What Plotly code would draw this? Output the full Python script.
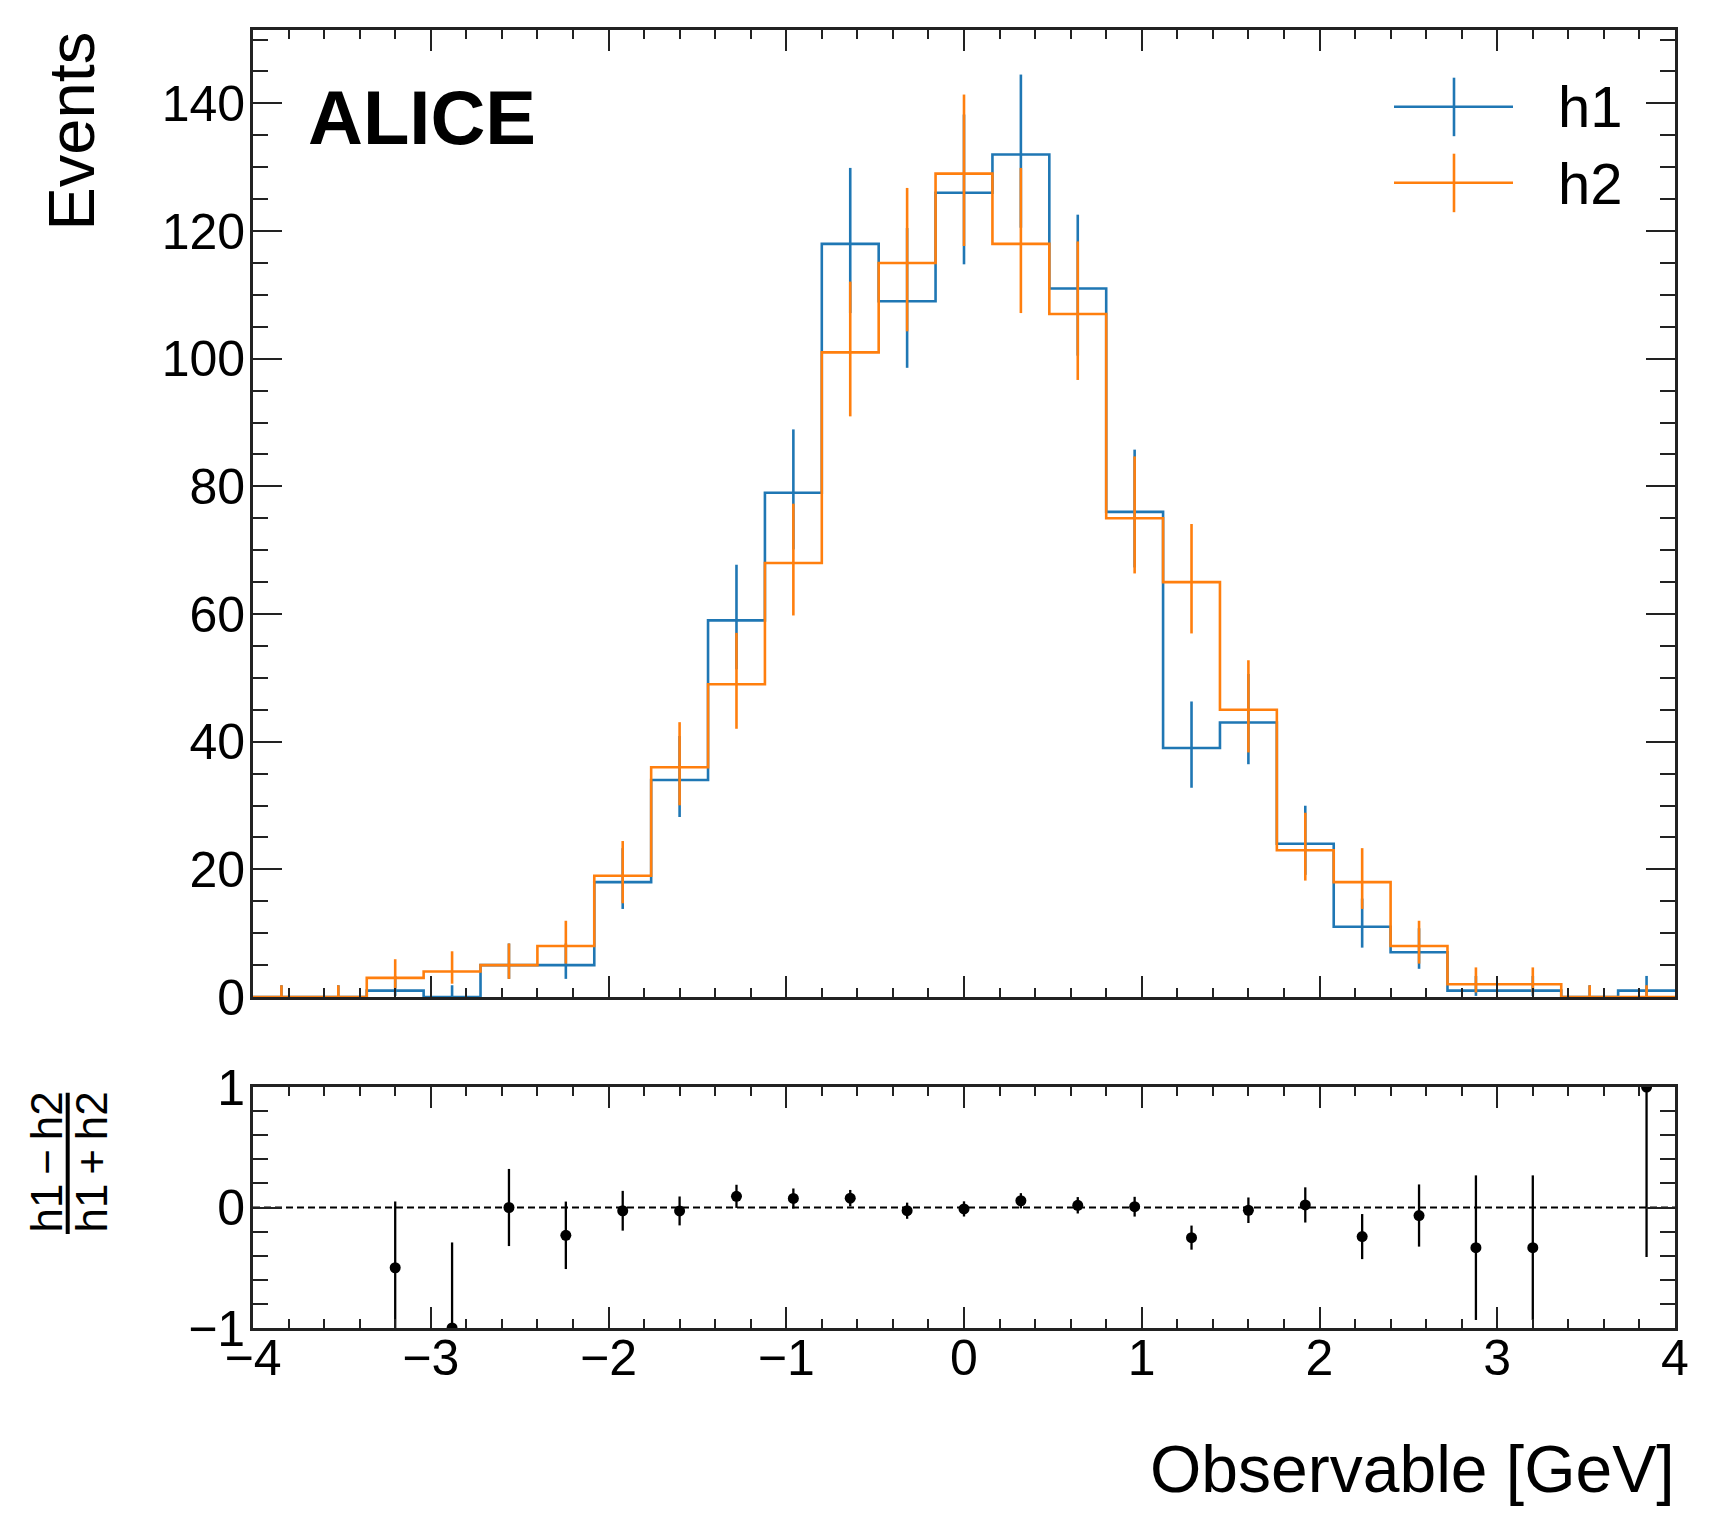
import math
import numpy as np
import plotly.graph_objects as go

# ---------------- data ----------------
bin_edges = [-4.00, -3.68, -3.36, -3.04, -2.72, -2.40, -2.08, -1.76, -1.44, -1.12,
             -0.80, -0.48, -0.16, 0.16, 0.48, 0.80, 1.12, 1.44, 1.76, 2.08,
             2.40, 2.72, 3.04, 3.36, 3.68, 4.00]
h1_counts = [0, 0, 1, 0, 5, 5, 18, 34, 59, 79, 118, 109, 126, 132, 111, 76, 39, 43,
             24, 11, 7, 1, 1, 0, 1]
h2_counts = [0, 0, 3, 4, 5, 8, 19, 36, 49, 68, 101, 115, 129, 118, 107, 75, 65, 45,
             23, 18, 8, 2, 2, 0, 0]
# uncertainty of the asymmetry, None = no point
ratio_err = [None, None, 0.55, 0.71, 0.32, 0.28, 0.165, 0.12, 0.096, 0.083, 0.068,
             0.067, 0.063, 0.063, 0.068, 0.082, 0.10, 0.106, 0.146, 0.187, 0.258,
             0.60, 0.60, None, 1.41]
x_ticks = [-4, -3, -2, -1, 0, 1, 2, 3, 4]
y_ticks = [0, 20, 40, 60, 80, 100, 120, 140]
r_ticks = [-1, 0, 1]

BLUE = "#1f77b4"
ORANGE = "#ff7f0e"
AX = "#222222"
FONT = "Liberation Sans, Arial, Helvetica, sans-serif"

edges = np.array(bin_edges)
centers = 0.5 * (edges[:-1] + edges[1:])


# Garwood (Poisson) 68% intervals, as used for histogram error bars
def _cdf(n, mu):
    if mu <= 0:
        return 1.0
    s = 0.0
    for j in range(n + 1):
        s += math.exp(-mu + j * math.log(mu) - math.lgamma(j + 1))
    return s


def _solve(f, target, lo, hi):
    for _ in range(100):
        mid = 0.5 * (lo + hi)
        if f(mid) > target:
            lo = mid
        else:
            hi = mid
    return 0.5 * (lo + hi)


def poisson_err(counts):
    a = (1 - 0.682689492) / 2
    lo_e, up_e = [], []
    for n in counts:
        hi_lim = n + 20 * math.sqrt(n + 1) + 10
        up = _solve(lambda m: _cdf(n, m), a, 0.0, hi_lim)
        if n > 0:
            lo = _solve(lambda m: _cdf(n - 1, m), 1 - a, 0.0, hi_lim)
        else:
            lo = 0.0
        lo_e.append(n - lo)
        up_e.append(up - n)
    return lo_e, up_e


h1_lo, h1_up = poisson_err(h1_counts)
h2_lo, h2_up = poisson_err(h2_counts)

a1 = np.array(h1_counts, float)
a2 = np.array(h2_counts, float)
rx, ry, re = [], [], []
for c, v1, v2, e in zip(centers, a1, a2, ratio_err):
    if e is None or v1 + v2 == 0:
        continue
    rx.append(c)
    ry.append((v1 - v2) / (v1 + v2))
    re.append(e)

# ---------------- geometry (target pixels in the 1719x1535 shot) ----------------
W, H = 1719, 1535
OFF = 8                      # page body margin of the html page
L, R, T, B = 253, 1675, 30, 1328
main_bottom_px = 997
ratio_top_px = 1087


def px(xp):
    return (xp - L) / (R - L)


def py(yp):
    return (B - yp) / (B - T)


fig = go.Figure()

for counts, lo_e, up_e, col, name in [(h1_counts, h1_lo, h1_up, BLUE, "h1"),
                                      (h2_counts, h2_lo, h2_up, ORANGE, "h2")]:
    fig.add_trace(go.Scatter(
        x=list(edges), y=list(counts) + [counts[-1]], mode="lines",
        line=dict(color=col, width=2.6, shape="hv"), xaxis="x", yaxis="y",
        showlegend=False, hoverinfo="skip", name=name))
    fig.add_trace(go.Scatter(
        x=list(centers), y=list(counts), mode="markers",
        marker=dict(size=2, color="rgba(0,0,0,0)"),
        error_y=dict(type="data", symmetric=False, array=up_e, arrayminus=lo_e,
                     color=col, thickness=2.6, width=0),
        xaxis="x", yaxis="y", showlegend=False, name=name))

fig.add_trace(go.Scatter(
    x=rx, y=ry, mode="markers", marker=dict(size=11, color="black"),
    error_y=dict(type="data", array=re, color="black", thickness=2.3, width=0),
    xaxis="x2", yaxis="y2", showlegend=False))

common = dict(showline=True, linewidth=2.7, linecolor=AX, mirror="ticks",
              ticks="inside", tickwidth=2, tickcolor=AX, showgrid=False,
              zeroline=False, automargin=False,
              tickfont=dict(size=50, family=FONT, color="black"))

fig.update_layout(
    width=W - OFF, height=H - OFF,
    margin=dict(l=L - OFF, r=W - R, t=T - OFF, b=H - B, pad=0, autoexpand=False),
    paper_bgcolor="white", plot_bgcolor="white",
    font=dict(family=FONT, color="black"),
    showlegend=False,
    xaxis=dict(domain=[0, 1], range=[-4, 4], anchor="y", matches="x2",
               tickvals=x_ticks, ticklen=21, showticklabels=False,
               minor=dict(ticks="inside", dtick=0.2, ticklen=9.5, tickwidth=2,
                          tickcolor=AX, showgrid=False),
               **common),
    yaxis=dict(domain=[py(main_bottom_px), 1], range=[0, 151.5], anchor="x",
               tickvals=y_ticks, ticklen=29, ticklabelstandoff=-5,
               minor=dict(ticks="inside", dtick=5, ticklen=15, tickwidth=2,
                          tickcolor=AX, showgrid=False),
               **common),
    xaxis2=dict(domain=[0, 1], range=[-4, 4], anchor="y2",
                tickvals=x_ticks, ticklen=21, ticklabelstandoff=-16,
                minor=dict(ticks="inside", dtick=0.2, ticklen=9.5, tickwidth=2,
                           tickcolor=AX, showgrid=False),
                **common),
    yaxis2=dict(domain=[0, py(ratio_top_px)], range=[-1, 1], anchor="x2",
                tickvals=r_ticks, ticklen=29, ticklabelstandoff=-5,
                minor=dict(ticks="inside", dtick=0.2, ticklen=15, tickwidth=2,
                           tickcolor=AX, showgrid=False),
                **common),
)

shapes = []
# dashed reference line in the ratio panel
shapes.append(dict(type="line", xref="x2 domain", yref="y2", x0=0, x1=1, y0=0, y1=0,
                   line=dict(color="black", width=2, dash="7px,4px"), layer="below"))
# manual legend
for yc, col in [(106.7, BLUE), (182.7, ORANGE)]:
    shapes.append(dict(type="line", xref="paper", yref="paper",
                       x0=px(1394), x1=px(1513), y0=py(yc), y1=py(yc),
                       line=dict(color=col, width=2.6)))
    shapes.append(dict(type="line", xref="paper", yref="paper",
                       x0=px(1454), x1=px(1454), y0=py(yc - 29), y1=py(yc + 29.5),
                       line=dict(color=col, width=2.6)))
# fraction bar of the ratio-axis label
shapes.append(dict(type="line", xref="paper", yref="paper",
                   x0=px(67.7), x1=px(67.7), y0=py(1092.7), y1=py(1234),
                   line=dict(color="black", width=4)))
fig.update_layout(shapes=shapes)

ann = []
ann.append(dict(text="<b>ALICE</b>", xref="paper", yref="paper", x=px(306), y=py(117),
                xanchor="left", yanchor="middle", showarrow=False,
                font=dict(size=76, family=FONT, color="black")))
for yc, lab in [(107, "h1"), (183, "h2")]:
    ann.append(dict(text=lab, xref="paper", yref="paper", x=px(1556), y=py(yc),
                    xanchor="left", yanchor="middle", showarrow=False,
                    font=dict(size=58, family=FONT, color="black")))
ann.append(dict(text="Events", xref="paper", yref="paper", x=px(71), y=py(30),
                xanchor="center", yanchor="top", textangle=-90, showarrow=False,
                font=dict(size=65, family=FONT, color="black")))
ann.append(dict(text="Observable [GeV]", xref="paper", yref="paper", x=px(1677), y=py(1469),
                xanchor="right", yanchor="middle", showarrow=False,
                font=dict(size=66, family=FONT, color="black")))
ann.append(dict(text="h1\u2009\u2212\u2009h2", xref="paper", yref="paper", x=px(46), y=py(1162.5),
                xanchor="center", yanchor="middle", textangle=-90, showarrow=False,
                font=dict(size=44, family=FONT, color="black")))
ann.append(dict(text="h1\u2009+\u2009h2", xref="paper", yref="paper", x=px(91), y=py(1162.5),
                xanchor="center", yanchor="middle", textangle=-90, showarrow=False,
                font=dict(size=44, family=FONT, color="black")))
fig.update_layout(annotations=ann)

fig.write_html("out.html")
